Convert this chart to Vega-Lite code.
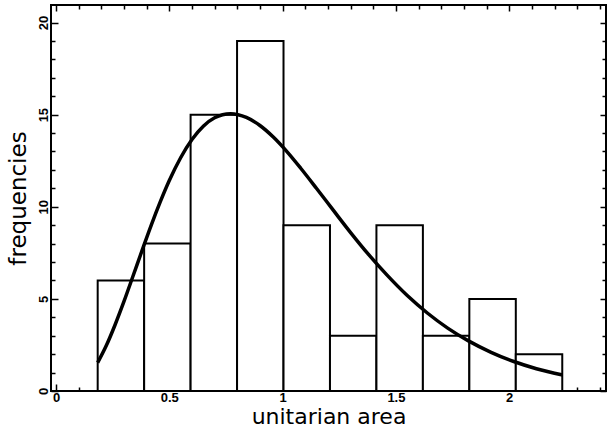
{
  "$schema": "https://vega.github.io/schema/vega-lite/v6.json",
  "width": 555,
  "height": 386,
  "autosize": {"type": "none"},
  "padding": {"left": 51, "top": 5, "right": 1, "bottom": 39},
  "background": "white",
  "config": {
    "view": {"stroke": "black", "strokeWidth": 2},
    "axis": {
      "domain": false,
      "grid": false,
      "tickColor": "black",
      "tickWidth": 1.5,
      "labelColor": "black",
      "titleColor": "black",
      "labelFont": "Liberation Sans",
      "labelFontWeight": "bold",
      "labelFontSize": 13,
      "titleFont": "DejaVu Sans",
      "titleFontWeight": "normal",
      "labelOverlap": false,
      "labelFlush": false
    }
  },
  "datasets": {
    "bars": [
      {"x0": 0.184, "x1": 0.389, "count": 6},
      {"x0": 0.389, "x1": 0.594, "count": 8},
      {"x0": 0.594, "x1": 0.799, "count": 15},
      {"x0": 0.799, "x1": 1.004, "count": 19},
      {"x0": 1.004, "x1": 1.209, "count": 9},
      {"x0": 1.209, "x1": 1.414, "count": 3},
      {"x0": 1.414, "x1": 1.619, "count": 9},
      {"x0": 1.619, "x1": 1.824, "count": 3},
      {"x0": 1.824, "x1": 2.029, "count": 5},
      {"x0": 2.029, "x1": 2.234, "count": 2}
    ],
    "curve": [
      {"cx": 0.184, "cy": 1.54},
      {"cx": 0.22, "cy": 2.41},
      {"cx": 0.26, "cy": 3.57},
      {"cx": 0.30, "cy": 4.86},
      {"cx": 0.34, "cy": 6.24},
      {"cx": 0.38, "cy": 7.63},
      {"cx": 0.42, "cy": 8.99},
      {"cx": 0.46, "cy": 10.26},
      {"cx": 0.50, "cy": 11.42},
      {"cx": 0.55, "cy": 12.66},
      {"cx": 0.60, "cy": 13.65},
      {"cx": 0.65, "cy": 14.37},
      {"cx": 0.70, "cy": 14.83},
      {"cx": 0.77, "cy": 15.05},
      {"cx": 0.84, "cy": 14.85},
      {"cx": 0.90, "cy": 14.41},
      {"cx": 0.96, "cy": 13.77},
      {"cx": 1.02, "cy": 12.98},
      {"cx": 1.08, "cy": 12.09},
      {"cx": 1.15, "cy": 10.99},
      {"cx": 1.22, "cy": 9.87},
      {"cx": 1.30, "cy": 8.60},
      {"cx": 1.38, "cy": 7.40},
      {"cx": 1.46, "cy": 6.30},
      {"cx": 1.55, "cy": 5.18},
      {"cx": 1.64, "cy": 4.22},
      {"cx": 1.73, "cy": 3.40},
      {"cx": 1.82, "cy": 2.72},
      {"cx": 1.92, "cy": 2.10},
      {"cx": 2.02, "cy": 1.60},
      {"cx": 2.12, "cy": 1.21},
      {"cx": 2.236, "cy": 0.87}
    ]
  },
  "layer": [
    {
      "data": {"name": "bars"},
      "mark": {"type": "bar", "fill": "white", "stroke": "black", "strokeWidth": 2},
      "encoding": {
        "x": {
          "field": "x0",
          "type": "quantitative",
          "scale": {"domain": [-0.022, 2.427], "nice": false, "zero": false},
          "axis": {
            "orient": "bottom",
            "values": [0,0.1,0.2,0.3,0.4,0.5,0.6,0.7,0.8,0.9,1,1.1,1.2,1.3,1.4,1.5,1.6,1.7,1.8,1.9,2,2.1,2.2,2.3,2.4],
            "tickSize": {"condition": {"test": "abs(datum.value*2 - round(datum.value*2)) < 0.001", "value": -7}, "value": -4},
            "labelExpr": "abs(datum.value*2 - round(datum.value*2)) < 0.001 ? format(datum.value, '~g') : ''",
            "labelPadding": 7,
            "labelBaseline": "top",
            "title": "unitarian area",
            "titleFontSize": 22,
            "titlePadding": -1
          }
        },
        "x2": {"field": "x1"},
        "y": {
          "field": "count",
          "type": "quantitative",
          "scale": {"domain": [0, 20.95], "nice": false, "zero": false},
          "axis": {
            "orient": "left",
            "values": [0,1,2,3,4,5,6,7,8,9,10,11,12,13,14,15,16,17,18,19,20],
            "tickSize": {"condition": {"test": "datum.value % 5 === 0", "value": -7}, "value": -4},
            "labelExpr": "datum.value % 5 === 0 ? datum.label : ''",
            "labelAngle": 270,
            "labelAlign": "center",
            "labelBaseline": "bottom",
            "labelPadding": 8,
            "title": "frequencies",
            "titleFontSize": 23,
            "titlePadding": 4
          }
        },
        "y2": {"datum": 0}
      }
    },
    {
      "data": {"name": "curve"},
      "mark": {"type": "line", "color": "black", "strokeWidth": 3.5, "interpolate": "monotone"},
      "encoding": {
        "x": {
          "field": "cx",
          "type": "quantitative",
          "scale": {"domain": [-0.022, 2.427], "nice": false, "zero": false},
          "axis": {
            "orient": "top",
            "values": [0,0.1,0.2,0.3,0.4,0.5,0.6,0.7,0.8,0.9,1,1.1,1.2,1.3,1.4,1.5,1.6,1.7,1.8,1.9,2,2.1,2.2,2.3,2.4],
            "tickSize": {"condition": {"test": "abs(datum.value*2 - round(datum.value*2)) < 0.001", "value": -6}, "value": -4},
            "labels": false,
            "title": null
          }
        },
        "y": {
          "field": "cy",
          "type": "quantitative",
          "scale": {"domain": [0, 20.95], "nice": false, "zero": false},
          "axis": {
            "orient": "right",
            "values": [0,1,2,3,4,5,6,7,8,9,10,11,12,13,14,15,16,17,18,19,20],
            "tickSize": {"condition": {"test": "datum.value % 5 === 0", "value": -6}, "value": -4},
            "labels": false,
            "title": null
          }
        }
      }
    }
  ],
  "resolve": {"axis": {"x": "independent", "y": "independent"}}
}
